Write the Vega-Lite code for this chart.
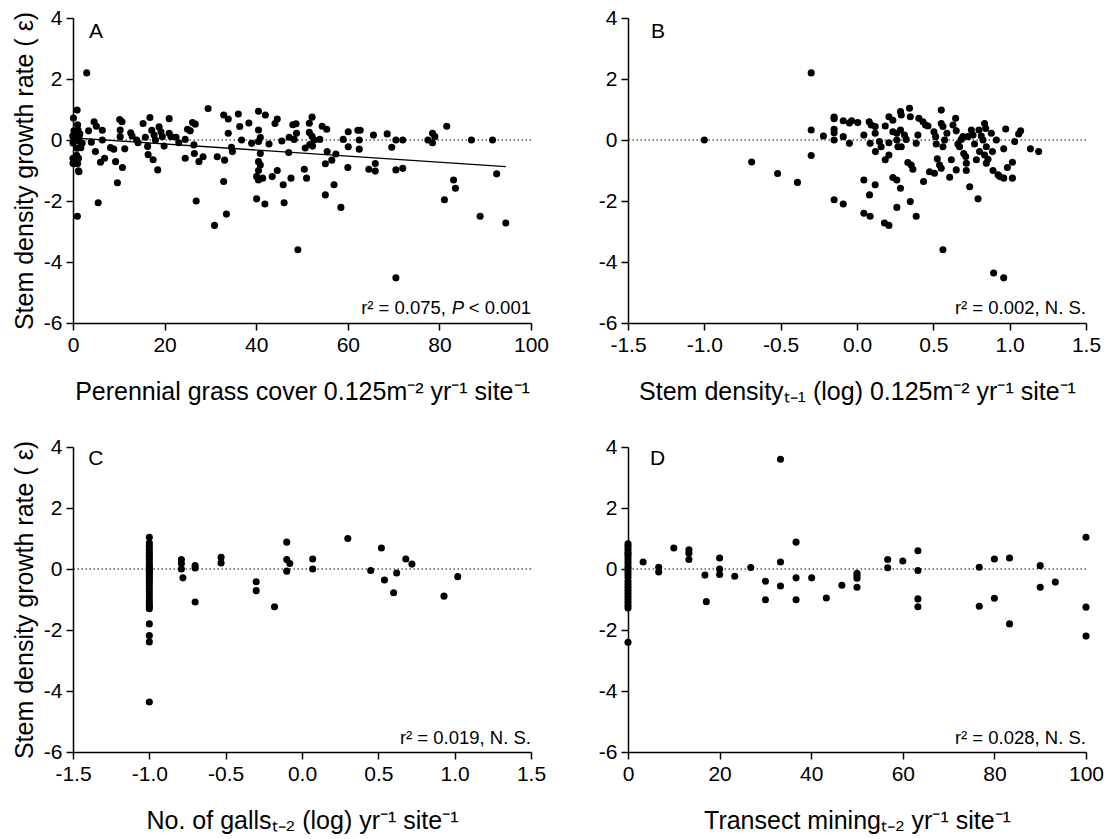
{
  "$schema": "https://vega.github.io/schema/vega-lite/v6.json",
  "padding": {"left": 12, "top": 7, "right": 5, "bottom": 5},
  "background": "white",
  "config": {
    "view": {"stroke": null},
    "font": "Liberation Sans",
    "axis": {"grid": false, "domainColor": "#000", "domainWidth": 1.5, "tickColor": "#000", "tickWidth": 1.5, "tickSize": 7, "labelColor": "#000", "labelFontSize": 21, "labelFont": "Liberation Sans", "titleFont": "Liberation Sans", "titleFontSize": 25, "titleFontWeight": "normal", "titleColor": "#000", "labelPadding": 4, "labelFlush": false, "labelOverlap": false},
    "text": {"font": "Liberation Sans", "color": "#000"}
  },
  "datasets": {
    "A": [
      {"x":3.0,"y":2.2},{"x":0.9,"y":0.98},{"x":0.1,"y":0.72},{"x":1.0,"y":0.5},{"x":1.1,"y":0.33},{"x":0.3,"y":0.17},{"x":0.4,"y":0},{"x":1.3,"y":0.1},{"x":1.4,"y":-0.05},{"x":1.7,"y":-0.25},{"x":0.9,"y":-0.27},{"x":1.2,"y":-0.6},{"x":0.3,"y":-0.74},{"x":1.0,"y":-0.77},{"x":1.3,"y":-1.04},{"x":0.95,"y":-2.5},{"x":0.2,"y":-0.78},{"x":3.4,"y":0.3},{"x":4.0,"y":-0.07},{"x":4.6,"y":0.6},{"x":5.1,"y":0.45},{"x":4.9,"y":-0.38},{"x":6.0,"y":-0.73},{"x":6.4,"y":0.32},{"x":6.4,"y":0},{"x":5.5,"y":-2.06},{"x":6.9,"y":-0.6},{"x":8.2,"y":-0.25},{"x":8.9,"y":-0.3},{"x":9.3,"y":-0.71},{"x":9.7,"y":-1.4},{"x":10.2,"y":0.67},{"x":10.7,"y":0.6},{"x":10.3,"y":0.33},{"x":10.3,"y":0.11},{"x":10.8,"y":-0.9},{"x":11.3,"y":-0.29},{"x":12.6,"y":0.24},{"x":12.9,"y":0.13},{"x":13.9,"y":0},{"x":14.2,"y":-0.09},{"x":15.3,"y":0.54},{"x":15.8,"y":0.09},{"x":16.3,"y":-0.21},{"x":16.8,"y":0.74},{"x":16.4,"y":-0.48},{"x":17.5,"y":-0.65},{"x":17.2,"y":0.32},{"x":17.7,"y":0.16},{"x":18.0,"y":0},{"x":18.5,"y":-0.98},{"x":18.8,"y":0.43},{"x":19.2,"y":0.27},{"x":19.5,"y":0.11},{"x":19.9,"y":-0.2},{"x":21.0,"y":0.7},{"x":21.0,"y":0.22},{"x":21.4,"y":0.11},{"x":22.5,"y":0.09},{"x":23.1,"y":-0.09},{"x":24.5,"y":0.02},{"x":24.5,"y":-0.6},{"x":25.0,"y":0.35},{"x":25.6,"y":0.3},{"x":26.1,"y":0.57},{"x":26.7,"y":0.52},{"x":26.4,"y":-0.16},{"x":26.5,"y":-0.44},{"x":26.9,"y":-2.0},{"x":27.5,"y":-0.71},{"x":28.4,"y":-0.55},{"x":29.5,"y":1.03},{"x":30.9,"y":-2.8},{"x":31.5,"y":-0.55},{"x":32.9,"y":0.82},{"x":33.1,"y":-0.66},{"x":32.9,"y":-1.36},{"x":33.5,"y":-2.43},{"x":33.9,"y":0.22},{"x":33.9,"y":0.69},{"x":34.6,"y":-0.24},{"x":34.8,"y":-0.38},{"x":36.1,"y":0.85},{"x":36.4,"y":0.44},{"x":36.8,"y":0},{"x":38.4,"y":0.56},{"x":39.0,"y":-0.11},{"x":40.5,"y":0.94},{"x":40.5,"y":0.33},{"x":40.9,"y":0.08},{"x":40.5,"y":-0.05},{"x":40.9,"y":-0.44},{"x":40.5,"y":-0.71},{"x":40.9,"y":-0.82},{"x":40.5,"y":-1.0},{"x":40.1,"y":-1.2},{"x":40.5,"y":-1.31},{"x":41.4,"y":-1.25},{"x":40.1,"y":-1.93},{"x":41.9,"y":-2.1},{"x":42.0,"y":0.82},{"x":42.8,"y":-0.13},{"x":43.5,"y":-1.2},{"x":44.1,"y":0.54},{"x":44.6,"y":0.69},{"x":44.6,"y":-1.0},{"x":45.6,"y":-0.03},{"x":45.9,"y":-1.47},{"x":46.1,"y":-2.06},{"x":47.1,"y":-0.41},{"x":47.6,"y":-1.25},{"x":47.2,"y":0.09},{"x":48.0,"y":0.5},{"x":48.8,"y":0.22},{"x":49.1,"y":-3.6},
      {"x":48.7,"y":0.53},{"x":48.3,"y":0.02},{"x":51.6,"y":0.55},{"x":52.2,"y":0.75},{"x":51.6,"y":0.25},{"x":52.2,"y":0.12},{"x":52.7,"y":0},{"x":51.7,"y":-0.15},{"x":50.7,"y":-0.26},{"x":52.3,"y":-0.2},{"x":53.9,"y":0.02},{"x":54.4,"y":0.45},{"x":55.4,"y":0.35},{"x":55.5,"y":-0.38},{"x":55.1,"y":-0.78},{"x":56.5,"y":-0.66},{"x":57.4,"y":-0.46},{"x":57.0,"y":-1.47},{"x":55.1,"y":-1.8},{"x":58.5,"y":-2.21},{"x":50.5,"y":-0.96},{"x":51.0,"y":-1.25},{"x":59.0,"y":0.02},{"x":60.1,"y":0.27},{"x":60.1,"y":-0.22},{"x":60.0,"y":-0.9},{"x":62.2,"y":0.32},{"x":62.7,"y":0.32},{"x":62.5,"y":0},{"x":62.5,"y":-0.3},{"x":64.6,"y":-0.96},{"x":65.6,"y":0.16},{"x":66.0,"y":-0.77},{"x":66.0,"y":-1.02},{"x":68.6,"y":0.2},{"x":69.6,"y":-0.24},{"x":70.5,"y":0},{"x":70.5,"y":-0.98},{"x":70.5,"y":-4.52},{"x":72.0,"y":0},{"x":72.0,"y":-0.93},{"x":77.5,"y":0},{"x":78.5,"y":0.22},{"x":78.5,"y":-0.09},{"x":79.0,"y":0.11},{"x":81.1,"y":-1.96},{"x":81.6,"y":0.45},{"x":83.1,"y":-1.31},{"x":83.5,"y":-1.58},{"x":87.0,"y":0},{"x":88.9,"y":-2.5},{"x":91.6,"y":0},{"x":92.5,"y":-1.11},{"x":94.5,"y":-2.72},
      {"x":0,"y":0.11},{"x":0,"y":-0.76},{"x":1.2,"y":-1.01},{"x":0,"y":0.15},{"x":0,"y":-0.1},{"x":0.2,"y":0.3},{"x":0.5,"y":-0.75},{"x":0.8,"y":-0.5},{"x":1.5,"y":0.2},{"x":0.3,"y":0.05},{"x":2.0,"y":-0.1},{"x":0,"y":-0.6}
    ],
    "Afit": [{"x":0,"y":0.07},{"x":94.5,"y":-0.87}],
    "B": [
      {"x":-1.0,"y":0},{"x":-0.69,"y":-0.72},{"x":-0.52,"y":-1.1},{"x":-0.39,"y":-1.39},{"x":-0.30,"y":2.2},{"x":-0.30,"y":0.33},{"x":-0.30,"y":-0.51},{"x":-0.22,"y":0.13},{"x":-0.15,"y":0.75},{"x":-0.15,"y":0.7},{"x":-0.15,"y":0.35},{"x":-0.15,"y":0.24},{"x":-0.15,"y":0},{"x":-0.15,"y":-1.96},{"x":-0.09,"y":0.63},{"x":-0.09,"y":0.11},{"x":-0.09,"y":-2.1},{"x":-0.05,"y":0.56},{"x":-0.05,"y":-0.11},
      {"x":-0.035,"y":0.63},{"x":0.005,"y":0.57},{"x":0.045,"y":0.16},{"x":0.045,"y":-1.31},{"x":0.08,"y":0.6},{"x":0.093,"y":0.49},{"x":0.086,"y":-0.11},{"x":0.082,"y":-1.8},{"x":0.045,"y":-2.4},{"x":0.086,"y":-2.5},{"x":0.119,"y":0.44},{"x":0.119,"y":0.22},{"x":0.121,"y":-0.38},{"x":0.119,"y":-1.47},{"x":0.147,"y":-0.05},{"x":0.158,"y":-0.22},{"x":0.185,"y":0.46},{"x":0.185,"y":-0.65},{"x":0.18,"y":-2.72},{"x":0.209,"y":-2.8},{"x":0.209,"y":0.76},{"x":0.209,"y":-0.09},{"x":0.209,"y":-0.49},{"x":0.235,"y":0.65},{"x":0.235,"y":0.27},{"x":0.235,"y":-1.23},{"x":0.261,"y":-1.31},{"x":0.261,"y":-2.21},{"x":0.261,"y":0.22},{"x":0.261,"y":0},{"x":0.268,"y":-0.22},{"x":0.285,"y":0.33},{"x":0.285,"y":-1.58},{"x":0.285,"y":0.93},{"x":0.29,"y":0.82},{"x":0.29,"y":-0.22},{"x":0.311,"y":0.16},{"x":0.322,"y":0.02},{"x":0.344,"y":1.04},{"x":0.349,"y":0.76},{"x":0.333,"y":-0.74},{"x":0.355,"y":-0.82},{"x":0.366,"y":-0.96},{"x":0.349,"y":-2.02},{"x":0.388,"y":-2.5},{"x":0.388,"y":-0.11},{"x":0.399,"y":0.16},{"x":0.405,"y":0.71},{"x":0.432,"y":0.6},{"x":0.436,"y":-1.36},{"x":0.449,"y":0.49},{"x":0.465,"y":0.46},{"x":0.475,"y":-1.04},{"x":0.508,"y":-1.09},{"x":0.504,"y":0.27},{"x":0.515,"y":0.11},{"x":0.519,"y":-0.13},{"x":0.526,"y":-0.62},{"x":0.541,"y":-0.82},{"x":0.552,"y":0.98},{"x":0.552,"y":0.54},{"x":0.552,"y":-0.93},{"x":0.563,"y":0.44},{"x":0.563,"y":-3.6},{"x":0.574,"y":0},{"x":0.589,"y":0.22},{"x":0.563,"y":-0.22},{"x":0.607,"y":-1.22},{"x":0.618,"y":-0.65},{"x":0.629,"y":0.49},{"x":0.646,"y":0.71},{"x":0.65,"y":0.3},{"x":0.65,"y":-0.98},{"x":0.661,"y":-0.13},{"x":0.672,"y":-0.22},{"x":0.683,"y":0.02},{"x":0.694,"y":0.11},{"x":0.699,"y":-0.44},{"x":0.712,"y":-0.54},{"x":0.716,"y":-0.76},{"x":0.716,"y":-1.0},{"x":0.738,"y":-1.53},{"x":0.727,"y":0.11},{"x":0.749,"y":0.33},{"x":0.76,"y":0.16},{"x":0.77,"y":-0.13},{"x":0.782,"y":-0.65},{"x":0.793,"y":-1.93},{"x":0.799,"y":0.33},{"x":0.803,"y":-0.38},{"x":0.814,"y":0.13},{"x":0.825,"y":0},{"x":0.836,"y":0.54},{"x":0.843,"y":0.38},{"x":0.836,"y":-0.49},{"x":0.847,"y":-0.76},{"x":0.847,"y":-0.22},{"x":0.858,"y":-0.63},{"x":0.88,"y":0.22},{"x":0.887,"y":-0.38},{"x":0.891,"y":-1.0},{"x":0.895,"y":-4.36},{"x":0.913,"y":0},{"x":0.924,"y":-1.14},{"x":0.935,"y":-1.2},{"x":0.961,"y":-4.52},{"x":0.961,"y":-1.25},{"x":0.961,"y":-0.29},{"x":0.974,"y":0.36},{"x":0.985,"y":-0.9},{"x":1.018,"y":-0.73},{"x":1.018,"y":-1.25},{"x":1.033,"y":-0.05},{"x":1.059,"y":0.2},{"x":1.072,"y":0.3},{"x":1.136,"y":-0.29},{"x":1.19,"y":-0.38}
    ],
    "C": [
      {"x":-1.0,"y":1.04},{"x":-1.0,"y":0.85},{"x":-1.0,"y":0.75},{"x":-1.0,"y":0.65},{"x":-1.0,"y":0.55},{"x":-1.0,"y":0.45},{"x":-1.0,"y":0.38},{"x":-1.0,"y":0.3},{"x":-1.0,"y":0.2},{"x":-1.0,"y":0.12},{"x":-1.0,"y":0.05},{"x":-1.0,"y":0},{"x":-1.0,"y":-0.05},{"x":-1.0,"y":-0.12},{"x":-1.0,"y":-0.2},{"x":-1.0,"y":-0.28},{"x":-1.0,"y":-0.35},{"x":-1.0,"y":-0.45},{"x":-1.0,"y":-0.55},{"x":-1.0,"y":-0.65},{"x":-1.0,"y":-0.75},{"x":-1.0,"y":-0.85},{"x":-1.0,"y":-0.95},{"x":-1.0,"y":-1.05},{"x":-1.0,"y":-1.15},{"x":-1.0,"y":-1.22},{"x":-1.0,"y":-1.3},{"x":-1.0,"y":-1.8},{"x":-1.0,"y":-2.18},{"x":-1.0,"y":-2.39},{"x":-1.0,"y":-4.36},
      {"x":-0.79,"y":0.31},{"x":-0.79,"y":0.18},{"x":-0.79,"y":0},{"x":-0.78,"y":-0.29},{"x":-0.70,"y":0.11},{"x":-0.70,"y":0.03},{"x":-0.70,"y":-1.08},{"x":-0.53,"y":0.38},{"x":-0.53,"y":0.2},{"x":-0.30,"y":-0.42},{"x":-0.30,"y":-0.71},{"x":-0.18,"y":-1.24},{"x":-0.10,"y":0.88},{"x":-0.10,"y":0.31},{"x":-0.08,"y":0.18},{"x":-0.10,"y":-0.07},{"x":0.07,"y":0.33},{"x":0.07,"y":0},
      {"x":0.30,"y":1.0},{"x":0.45,"y":-0.05},{"x":0.52,"y":0.69},{"x":0.54,"y":-0.36},{"x":0.60,"y":-0.78},{"x":0.62,"y":-0.13},{"x":0.68,"y":0.33},{"x":0.72,"y":0.16},{"x":0.93,"y":-0.89},{"x":1.02,"y":-0.25}
    ],
    "D": [
      {"x":0,"y":0.83},{"x":0,"y":0.75},{"x":0,"y":0.65},{"x":0,"y":0.55},{"x":0,"y":0.48},{"x":0,"y":0.4},{"x":0,"y":0.3},{"x":0,"y":0.2},{"x":0,"y":0.1},{"x":0,"y":0.02},{"x":0,"y":-0.08},{"x":0,"y":-0.18},{"x":0,"y":-0.28},{"x":0,"y":-0.4},{"x":0,"y":-0.5},{"x":0,"y":-0.6},{"x":0,"y":-0.7},{"x":0,"y":-0.8},{"x":0,"y":-0.9},{"x":0,"y":-1.0},{"x":0,"y":-1.1},{"x":0,"y":-1.2},{"x":0,"y":-1.28},{"x":0,"y":-2.4},
      {"x":3.3,"y":0.23},{"x":6.7,"y":0.06},{"x":6.7,"y":-0.1},{"x":10.0,"y":0.69},{"x":13.3,"y":0.63},{"x":13.3,"y":0.52},{"x":13.3,"y":0.31},{"x":16.8,"y":-0.2},{"x":17.1,"y":-1.07},{"x":20.0,"y":0.36},{"x":20.0,"y":0.0},{"x":20.0,"y":-0.18},{"x":23.3,"y":-0.24},{"x":26.8,"y":0.05},{"x":30.0,"y":-0.4},{"x":30.0,"y":-1.01},{"x":33.3,"y":3.6},{"x":33.3,"y":0.23},{"x":33.3,"y":-0.56},{"x":36.7,"y":0.88},{"x":36.7,"y":-0.29},{"x":36.7,"y":-1.01},{"x":40.1,"y":-0.29},{"x":43.3,"y":-0.95},{"x":46.7,"y":-0.53},{"x":50.0,"y":-0.14},{"x":50.0,"y":-0.22},{"x":50.0,"y":-0.3},{"x":50.0,"y":-0.6},
      {"x":56.7,"y":0.31},{"x":56.7,"y":0.04},{"x":60.0,"y":0.26},{"x":63.3,"y":0.6},{"x":63.3,"y":-0.05},{"x":63.3,"y":-0.98},{"x":63.3,"y":-1.24},{"x":76.7,"y":0.06},{"x":76.7,"y":-1.22},{"x":80.0,"y":0.33},{"x":80.0,"y":-0.96},{"x":83.3,"y":0.36},{"x":83.3,"y":-1.8},{"x":90.0,"y":0.11},{"x":90.0,"y":-0.6},{"x":93.3,"y":-0.43},{"x":100,"y":1.04},{"x":100,"y":-1.25},{"x":100,"y":-2.2}
    ]
  },
  "columns": 2,
  "spacing": {"row": 124, "column": 97},
  "bounds": "flush",
  "concat": [
    {
      "width": 458, "height": 305,
      "layer": [
        {"data": {"name": "A"}, "mark": {"type": "point", "filled": true, "color": "#000", "opacity": 1, "size": 50},
         "encoding": {
           "x": {"field": "x", "type": "quantitative", "scale": {"domain": [0, 100], "nice": false, "zero": false}, "axis": {"values": [0, 20, 40, 60, 80, 100], "title": "Perennial grass cover 0.125m⁻² yr⁻¹ site⁻¹", "titlePadding": 24}},
           "y": {"field": "y", "type": "quantitative", "scale": {"domain": [-6, 4], "nice": false, "zero": false}, "axis": {"values": [-6, -4, -2, 0, 2, 4], "labelExpr": "replace(datum.label, '−', '-')", "title": "Stem density growth rate ( ε)", "titlePadding": 6}}
         }},
        {"data": {"values": [{}]}, "mark": {"type": "rule", "strokeDash": [1.5, 2.5], "color": "#000", "strokeWidth": 1.2}, "encoding": {"y": {"datum": 0, "type": "quantitative"}}},
        {"data": {"name": "Afit"}, "mark": {"type": "line", "color": "#000", "strokeWidth": 1.3}, "encoding": {"x": {"field": "x", "type": "quantitative"}, "y": {"field": "y", "type": "quantitative"}}},
        {"data": {"values": [{}]}, "mark": {"type": "text", "align": "left", "baseline": "middle", "fontSize": 21}, "encoding": {"x": {"datum": 3.5, "type": "quantitative"}, "y": {"datum": 3.55, "type": "quantitative"}, "text": {"value": "A"}}},
        {"data": {"values": [{}]}, "mark": {"type": "text", "align": "right", "baseline": "alphabetic", "fontSize": 18.5}, "encoding": {"x": {"datum": 100, "type": "quantitative"}, "y": {"datum": -5.7, "type": "quantitative"}, "text": {"value": "< 0.001"}}},
        {"data": {"values": [{}]}, "mark": {"type": "text", "align": "right", "baseline": "alphabetic", "fontSize": 18.5, "fontStyle": "italic", "dx": -67}, "encoding": {"x": {"datum": 100, "type": "quantitative"}, "y": {"datum": -5.7, "type": "quantitative"}, "text": {"value": "P"}}},
        {"data": {"values": [{}]}, "mark": {"type": "text", "align": "right", "baseline": "alphabetic", "fontSize": 18.5, "dx": -85}, "encoding": {"x": {"datum": 100, "type": "quantitative"}, "y": {"datum": -5.7, "type": "quantitative"}, "text": {"value": "r² = 0.075,"}}}
      ]
    },
    {
      "width": 458, "height": 305,
      "layer": [
        {"data": {"name": "B"}, "mark": {"type": "point", "filled": true, "color": "#000", "opacity": 1, "size": 50},
         "encoding": {
           "x": {"field": "x", "type": "quantitative", "scale": {"domain": [-1.5, 1.5], "nice": false, "zero": false}, "axis": {"values": [-1.5, -1, -0.5, 0, 0.5, 1, 1.5], "format": ".1f", "labelExpr": "replace(datum.label, '−', '-')", "title": "Stem densityₜ₋₁ (log) 0.125m⁻² yr⁻¹ site⁻¹", "titlePadding": 24}},
           "y": {"field": "y", "type": "quantitative", "scale": {"domain": [-6, 4], "nice": false, "zero": false}, "axis": {"values": [-6, -4, -2, 0, 2, 4], "labelExpr": "replace(datum.label, '−', '-')", "title": ""}}
         }},
        {"data": {"values": [{}]}, "mark": {"type": "rule", "strokeDash": [1.5, 2.5], "color": "#000", "strokeWidth": 1.2}, "encoding": {"y": {"datum": 0, "type": "quantitative"}}},
        {"data": {"values": [{}]}, "mark": {"type": "text", "align": "left", "baseline": "middle", "fontSize": 21}, "encoding": {"x": {"datum": -1.35, "type": "quantitative"}, "y": {"datum": 3.55, "type": "quantitative"}, "text": {"value": "B"}}},
        {"data": {"values": [{}]}, "mark": {"type": "text", "align": "right", "baseline": "alphabetic", "fontSize": 18.5}, "encoding": {"x": {"datum": 1.5, "type": "quantitative"}, "y": {"datum": -5.7, "type": "quantitative"}, "text": {"value": "r² = 0.002, N. S."}}}
      ]
    },
    {
      "width": 458, "height": 305,
      "layer": [
        {"data": {"name": "C"}, "mark": {"type": "point", "filled": true, "color": "#000", "opacity": 1, "size": 50},
         "encoding": {
           "x": {"field": "x", "type": "quantitative", "scale": {"domain": [-1.5, 1.5], "nice": false, "zero": false}, "axis": {"values": [-1.5, -1, -0.5, 0, 0.5, 1, 1.5], "format": ".1f", "labelExpr": "replace(datum.label, '−', '-')", "title": "No. of gallsₜ₋₂ (log) yr⁻¹ site⁻¹", "titlePadding": 24}},
           "y": {"field": "y", "type": "quantitative", "scale": {"domain": [-6, 4], "nice": false, "zero": false}, "axis": {"values": [-6, -4, -2, 0, 2, 4], "labelExpr": "replace(datum.label, '−', '-')", "title": "Stem density growth rate ( ε)", "titlePadding": 6}}
         }},
        {"data": {"values": [{}]}, "mark": {"type": "rule", "strokeDash": [1.5, 2.5], "color": "#000", "strokeWidth": 1.2}, "encoding": {"y": {"datum": 0, "type": "quantitative"}}},
        {"data": {"values": [{}]}, "mark": {"type": "text", "align": "left", "baseline": "middle", "fontSize": 21}, "encoding": {"x": {"datum": -1.4, "type": "quantitative"}, "y": {"datum": 3.6, "type": "quantitative"}, "text": {"value": "C"}}},
        {"data": {"values": [{}]}, "mark": {"type": "text", "align": "right", "baseline": "alphabetic", "fontSize": 18.5}, "encoding": {"x": {"datum": 1.5, "type": "quantitative"}, "y": {"datum": -5.75, "type": "quantitative"}, "text": {"value": "r² = 0.019, N. S."}}}
      ]
    },
    {
      "width": 458, "height": 305,
      "layer": [
        {"data": {"name": "D"}, "mark": {"type": "point", "filled": true, "color": "#000", "opacity": 1, "size": 50},
         "encoding": {
           "x": {"field": "x", "type": "quantitative", "scale": {"domain": [0, 100], "nice": false, "zero": false}, "axis": {"values": [0, 20, 40, 60, 80, 100], "title": "Transect miningₜ₋₂ yr⁻¹ site⁻¹", "titlePadding": 24}},
           "y": {"field": "y", "type": "quantitative", "scale": {"domain": [-6, 4], "nice": false, "zero": false}, "axis": {"values": [-6, -4, -2, 0, 2, 4], "labelExpr": "replace(datum.label, '−', '-')", "title": ""}}
         }},
        {"data": {"values": [{}]}, "mark": {"type": "rule", "strokeDash": [1.5, 2.5], "color": "#000", "strokeWidth": 1.2}, "encoding": {"y": {"datum": 0, "type": "quantitative"}}},
        {"data": {"values": [{}]}, "mark": {"type": "text", "align": "left", "baseline": "middle", "fontSize": 21}, "encoding": {"x": {"datum": 4.8, "type": "quantitative"}, "y": {"datum": 3.6, "type": "quantitative"}, "text": {"value": "D"}}},
        {"data": {"values": [{}]}, "mark": {"type": "text", "align": "right", "baseline": "alphabetic", "fontSize": 18.5}, "encoding": {"x": {"datum": 100, "type": "quantitative"}, "y": {"datum": -5.75, "type": "quantitative"}, "text": {"value": "r² = 0.028, N. S."}}}
      ]
    }
  ]
}
